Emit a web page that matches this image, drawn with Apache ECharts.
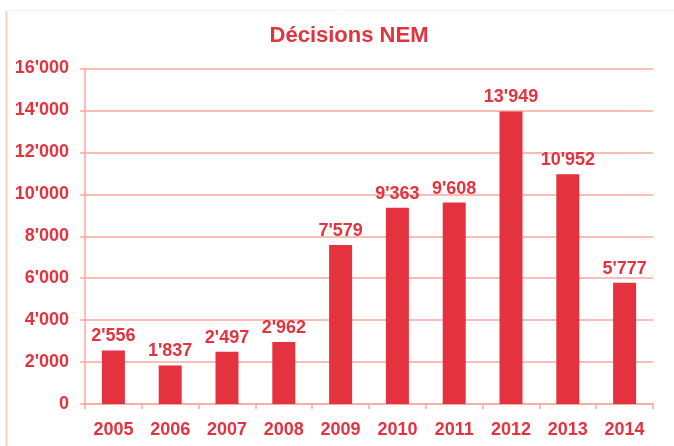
<!DOCTYPE html>
<html>
<head>
<meta charset="utf-8">
<script src="https://cdn.jsdelivr.net/npm/echarts@6/dist/echarts.min.js"></script>
<style>
html,body{margin:0;padding:0;background:#fff;}
#c{width:674px;height:446px;}
</style>
</head>
<body>
<div id="c"></div>
<script>
var categories = ['2005','2006','2007','2008','2009','2010','2011','2012','2013','2014'];
var decisions = [2556, 1837, 2497, 2962, 7579, 9363, 9608, 13949, 10952, 5777];
var yTicks = [0, 2000, 4000, 6000, 8000, 10000, 12000, 14000, 16000];

function fmt(v){
  var s = String(Math.round(v));
  return s.replace(/\B(?=(\d{3})+(?!\d))/g, "'");
}
var red = '#e5323f';
var grid = '#f8a99c';
var chart = echarts.init(document.getElementById('c'), null, {renderer:'canvas'});
chart.setOption({
  animation:false,
  backgroundColor:'#fff',
  title:{
    text:'Décisions NEM', left:344, textAlign:'center', top:20,
    textStyle:{color:red, fontFamily:'Liberation Sans, Arial, sans-serif', fontWeight:'bold', fontSize:22}
  },
  graphic:[
    {type:'line', shape:{x1:6.5,y1:11,x2:6.5,y2:446}, style:{stroke:'#fbcfc6', lineWidth:2}},
    {type:'line', shape:{x1:7,y1:10.5,x2:674,y2:10.5}, style:{stroke:'#fdf1ef', lineWidth:1}}
  ],
  grid:{left:85, right:21, top:68.5, bottom:42},
  xAxis:{
    type:'category', data:categories,
    axisLine:{show:true, lineStyle:{color:grid, width:1.5}},
    axisTick:{show:true, alignWithLabel:false, length:5, lineStyle:{color:grid, width:1.5}},
    axisLabel:{color:red, fontFamily:'Liberation Sans, Arial, sans-serif', fontWeight:'bold', fontSize:18, margin:17}
  },
  yAxis:{
    type:'value', min:0, max:16000, interval:2000,
    axisLine:{show:true, lineStyle:{color:grid, width:1.5}},
    axisTick:{show:true, length:5, lineStyle:{color:grid, width:1.5}},
    splitLine:{show:true, lineStyle:{color:grid, width:1.5}},
    axisLabel:{color:red, fontFamily:'Liberation Sans, Arial, sans-serif', fontWeight:'bold', fontSize:18, margin:16,
      formatter:function(v){ return fmt(v); }}
  },
  series:[{
    type:'bar', data:decisions, barWidth:23,
    itemStyle:{color:red},
    label:{show:true, position:'top', distance:5, color:red,
      fontFamily:'Liberation Sans, Arial, sans-serif', fontWeight:'bold', fontSize:18,
      formatter:function(p){ return fmt(p.value); }}
  }]
});
</script>
</body>
</html>
